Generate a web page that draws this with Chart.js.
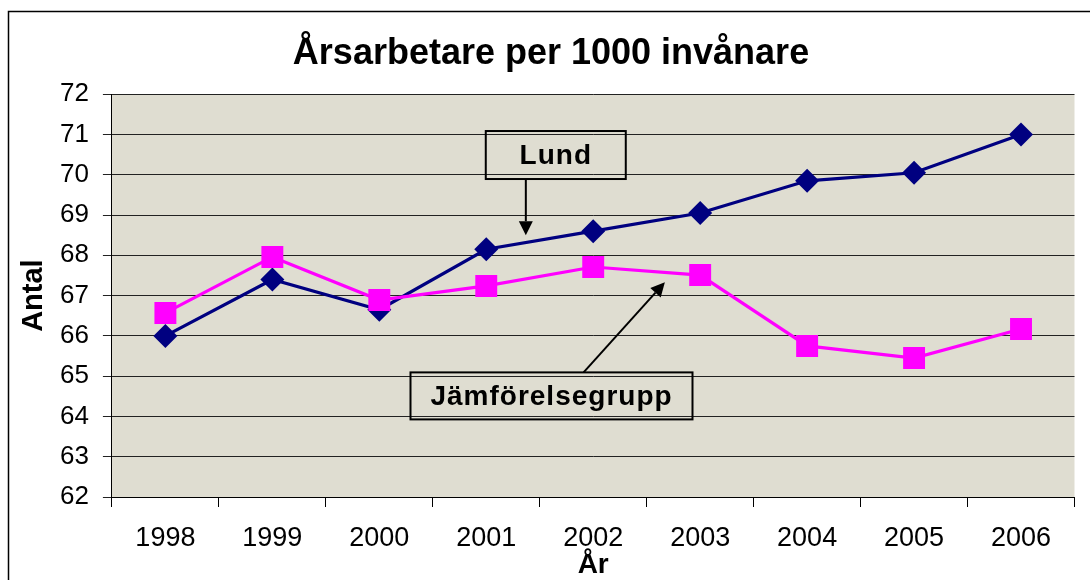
<!DOCTYPE html>
<html>
<head>
<meta charset="utf-8">
<script src="https://cdn.jsdelivr.net/npm/chart.js@4.4.1/dist/chart.umd.min.js"></script>
<style>
  html, body { margin: 0; padding: 0; background: #fff; }
  #wrap { width: 1090px; height: 580px; position: relative; }
</style>
</head>
<body>
<div id="wrap"><canvas id="myChart" width="1090" height="580"></canvas></div>
<script>
const years = ['1998', '1999', '2000', '2001', '2002', '2003', '2004', '2005', '2006'];
const lund = [66.0, 67.4, 66.65, 68.15, 68.6, 69.05, 69.85, 70.05, 71.0];
const jamforelse = [66.57, 67.96, 66.89, 67.24, 67.71, 67.51, 65.75, 65.45, 66.17];
const yMin = 62, yMax = 72;

const FONT = "'Liberation Sans', Arial, sans-serif";

// text boxes with arrows, given in category index / value units
const notes = [
    { text: 'Lund', x: 3.65, y: 70.49, w: 140, h: 48, from: [3.37, 'bottom'], to: [3.37, 68.5] },
    { text: 'Jämförelsegrupp', x: 3.61, y: 64.51, w: 282, h: 47, from: [3.91, 'top'], to: [4.67, 67.33] }
];

const bgPlugin = {
    id: 'bg',
    beforeDraw(chart) {
        const c = chart.ctx, a = chart.chartArea;
        c.save();
        c.fillStyle = '#fff';
        c.fillRect(0, 0, chart.width, chart.height);
        c.fillStyle = '#DFDDD1';
        c.fillRect(a.left, a.top, a.right - a.left, a.bottom - a.top);
        // outer frame
        c.strokeStyle = '#000';
        c.lineWidth = 1.5;
        c.strokeRect(8.5, 11.5, chart.width + 20, chart.height + 20);
        c.restore();
    }
};

const notePlugin = {
    id: 'notes',
    afterDatasetsDraw(chart) {
        const c = chart.ctx;
        const xs = chart.scales.x, ys = chart.scales.y;
        c.save();
        notes.forEach(n => {
            const cx = xs.getPixelForValue(n.x), cy = ys.getPixelForValue(n.y);
            const left = cx - n.w / 2, top = cy - n.h / 2;
            c.strokeStyle = '#000';
            c.lineWidth = 2;
            c.strokeRect(left, top, n.w, n.h);
            c.fillStyle = '#000';
            c.font = 'bold 28px ' + FONT;
            c.letterSpacing = '1px';
            c.textAlign = 'center';
            c.textBaseline = 'middle';
            c.fillText(n.text, cx, cy + 1);
            c.letterSpacing = '0px';
            // arrow
            const x1 = xs.getPixelForValue(n.from[0]);
            const y1 = n.from[1] === 'bottom' ? top + n.h : top;
            const x2 = xs.getPixelForValue(n.to[0]), y2 = ys.getPixelForValue(n.to[1]);
            const ang = Math.atan2(y2 - y1, x2 - x1);
            const hl = 14, hw = 7;
            c.lineWidth = 2;
            c.beginPath();
            c.moveTo(x1, y1);
            c.lineTo(x2 - Math.cos(ang) * hl, y2 - Math.sin(ang) * hl);
            c.stroke();
            c.beginPath();
            c.moveTo(x2, y2);
            c.lineTo(x2 - Math.cos(ang) * hl - Math.sin(ang) * hw, y2 - Math.sin(ang) * hl + Math.cos(ang) * hw);
            c.lineTo(x2 - Math.cos(ang) * hl + Math.sin(ang) * hw, y2 - Math.sin(ang) * hl - Math.cos(ang) * hw);
            c.closePath();
            c.fill();
        });
        c.restore();
    }
};

const ctx = document.getElementById('myChart').getContext('2d');
const myChart = new Chart(ctx, {
    type: 'line',
    data: {
        labels: years,
        datasets: [{
            label: 'Lund',
            data: lund,
            borderColor: '#000080',
            backgroundColor: '#000080',
            borderWidth: 3.2,
            pointStyle: 'rectRot',
            pointRadius: 12,
            pointBorderWidth: 0,
            tension: 0,
            order: 2
        }, {
            label: 'Jämförelsegrupp',
            data: jamforelse,
            borderColor: '#FF00FF',
            backgroundColor: '#FF00FF',
            borderWidth: 3.2,
            pointStyle: 'rect',
            pointRadius: 15.5,
            pointBorderWidth: 0,
            tension: 0,
            order: 1
        }]
    },
    options: {
        responsive: false,
        animation: false,
        layout: { padding: { left: 19, right: 7, top: 0, bottom: 1 } },
        plugins: {
            legend: { display: false },
            tooltip: { enabled: false },
            title: {
                display: true,
                text: 'Årsarbetare per 1000 invånare',
                color: '#000',
                font: { family: FONT, size: 36, weight: 'bold', lineHeight: 1.2 },
                padding: { top: 32, bottom: 19 }
            }
        },
        scales: {
            x: {
                offset: true,
                grid: {
                    offset: true,
                    drawOnChartArea: false,
                    drawTicks: true,
                    tickLength: 10,
                    color: '#000'
                },
                border: { color: '#000', width: 1 },
                ticks: {
                    color: '#000',
                    font: { family: FONT, size: 27, lineHeight: 1 },
                    padding: 18,
                    maxRotation: 0
                },
                title: {
                    display: true,
                    text: 'År',
                    color: '#000',
                    font: { family: FONT, size: 28, weight: 'bold', lineHeight: 1 },
                    padding: { top: -19, bottom: 0 }
                }
            },
            y: {
                min: yMin,
                max: yMax,
                grid: {
                    color: '#222',
                    lineWidth: 1,
                    tickLength: 9
                },
                border: { color: '#000', width: 1 },
                ticks: {
                    stepSize: 1,
                    color: '#000',
                    font: { family: FONT, size: 26 },
                    padding: 14
                },
                title: {
                    display: true,
                    text: 'Antal',
                    color: '#000',
                    font: { family: FONT, size: 29, weight: 'bold', lineHeight: 1 },
                    padding: { top: 0, bottom: -2 }
                }
            }
        }
    },
    plugins: [bgPlugin, notePlugin]
});
</script>
</body>
</html>
